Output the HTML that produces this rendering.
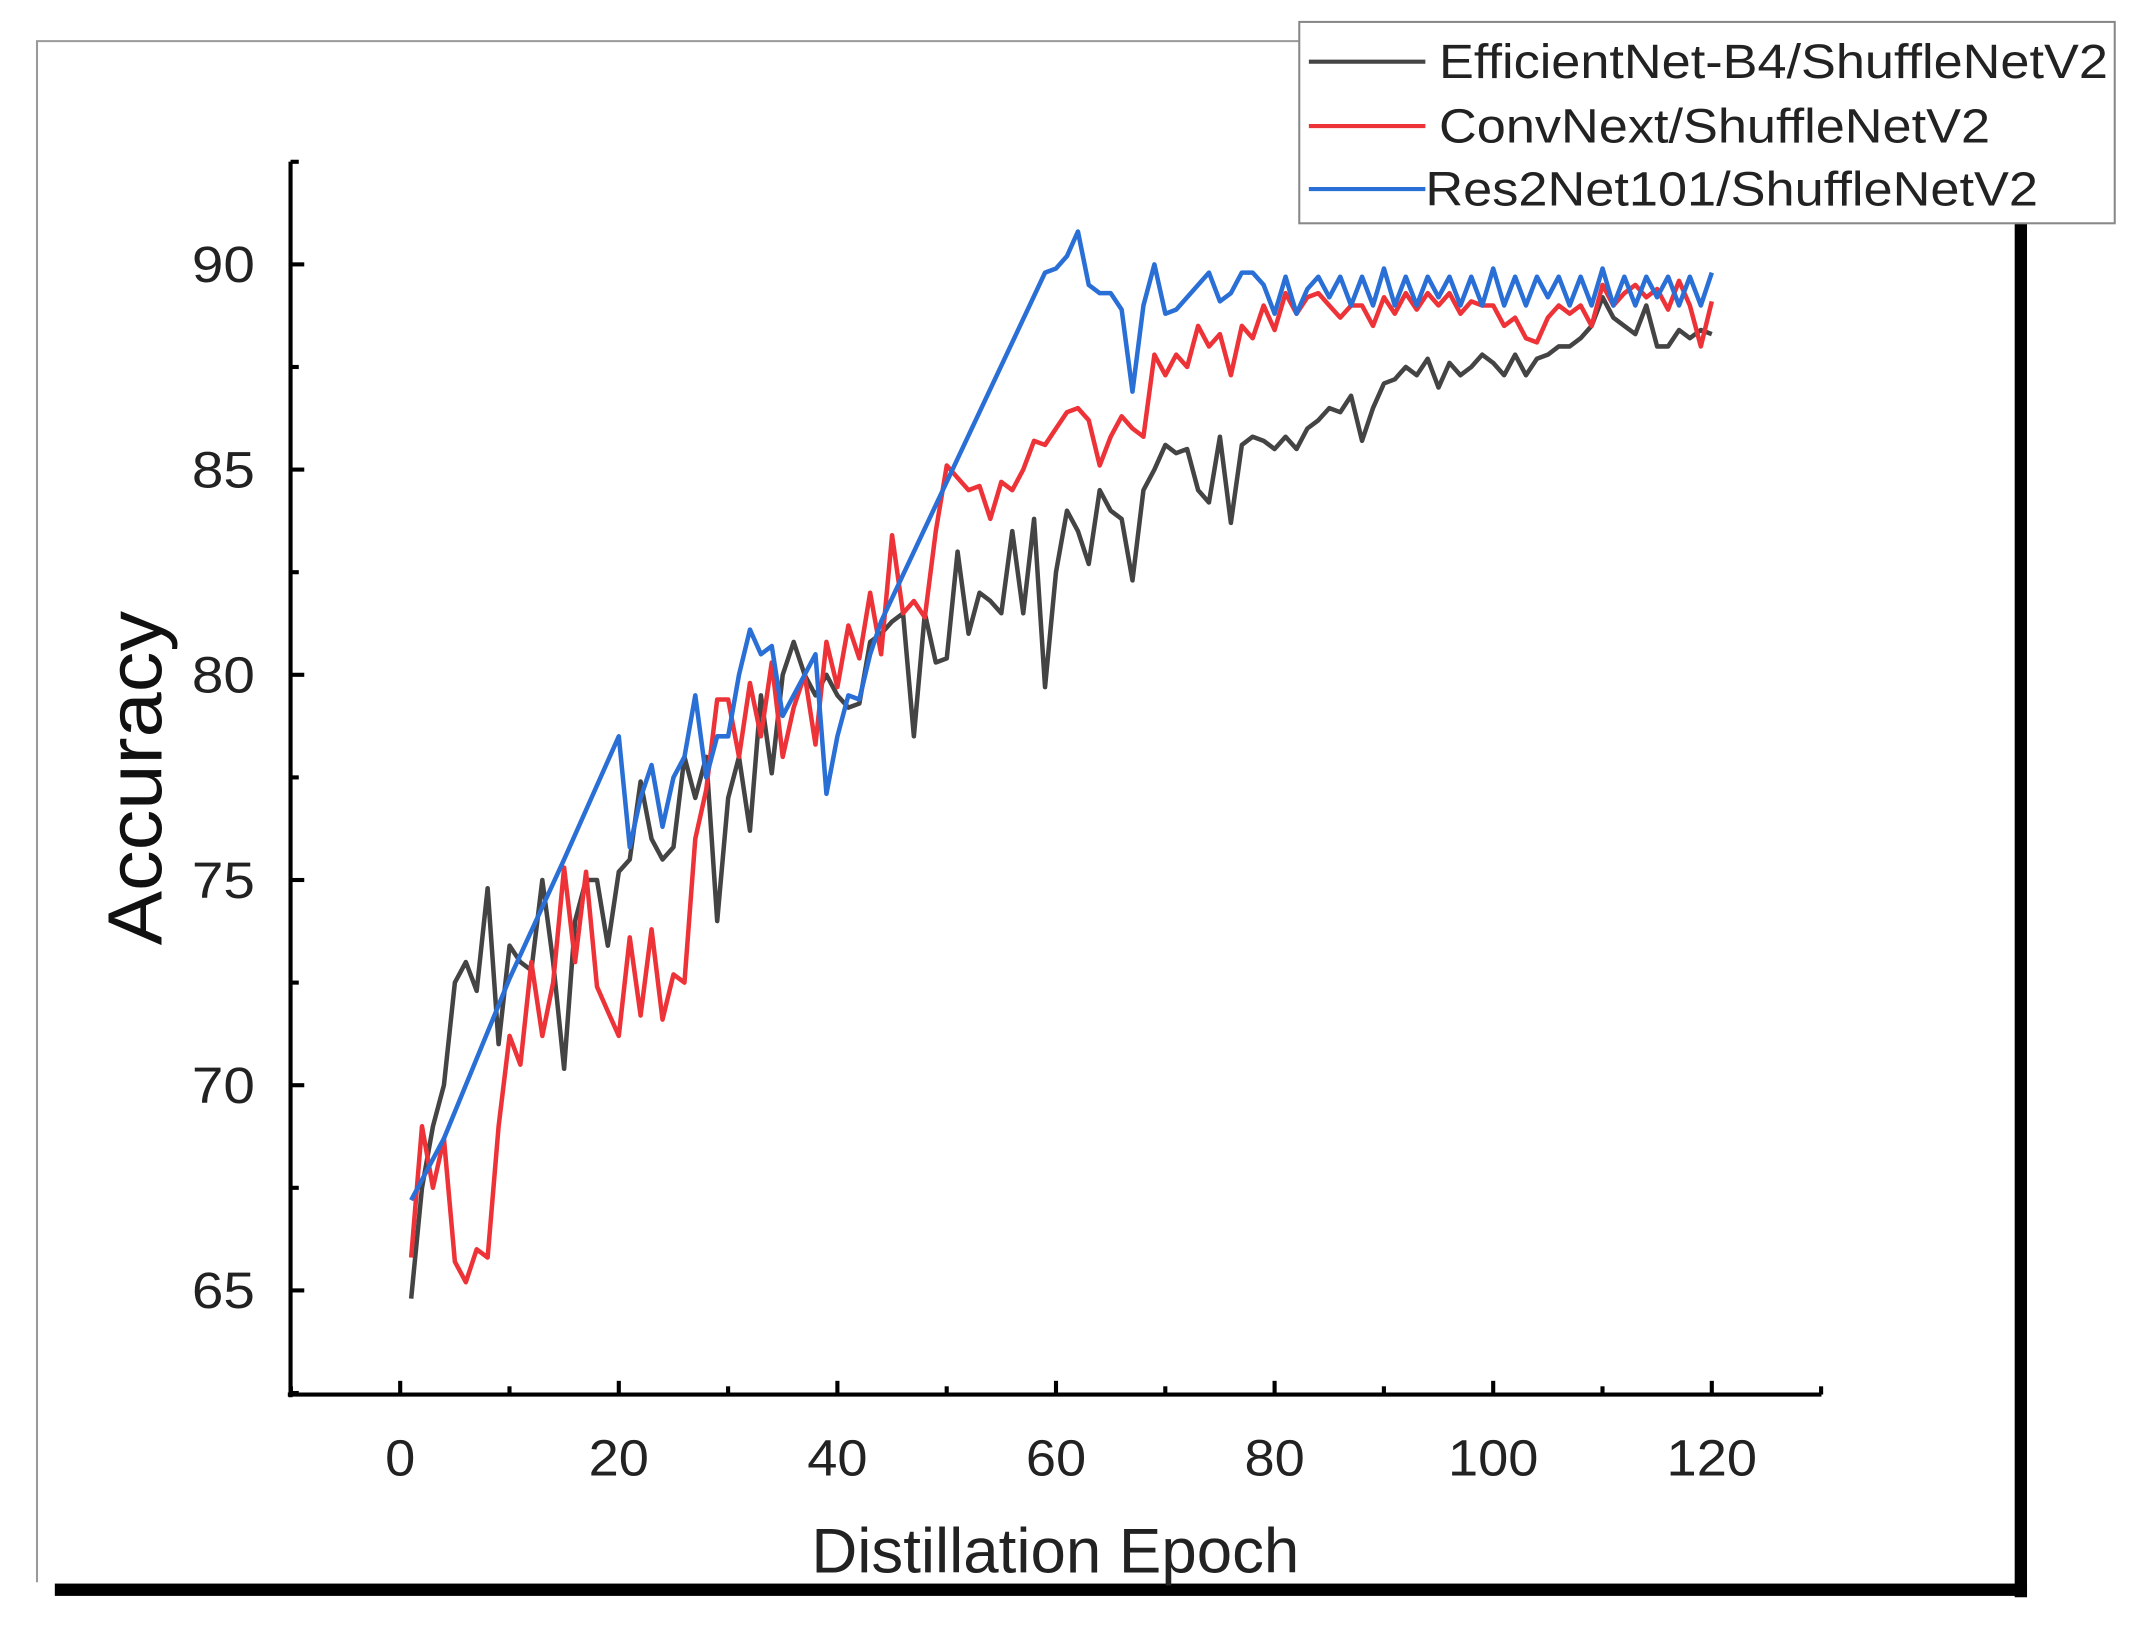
<!DOCTYPE html>
<html><head><meta charset="utf-8"><style>html,body{margin:0;padding:0;background:#fff;overflow:hidden}svg{display:block}</style></head>
<body>
<svg id="s" width="2149" height="1637" viewBox="0 0 1568 1195" preserveAspectRatio="none" xmlns="http://www.w3.org/2000/svg" font-family="Liberation Sans, Arial, sans-serif">
<rect width="1568" height="1195" fill="#fff"/>
<path d="M1475 30 H27 V1155" fill="none" stroke="#9a9a9a" stroke-width="1.5"/>
<rect x="1470" y="160" width="9" height="1006" fill="#000"/>
<rect x="40" y="1156" width="1439" height="9" fill="#000"/>
<g stroke="#000" stroke-width="3" fill="none">
<line x1="212" y1="118" x2="212" y2="1020"/>
<line x1="210" y1="1018" x2="1329" y2="1018"/>
</g>
<g id="ticks" stroke="#000" stroke-width="3"></g>
<g font-size="37" fill="#222" text-anchor="end" id="ylab"></g>
<g font-size="37" fill="#222" text-anchor="middle" id="xlab"></g>
<text x="770" y="1148" font-size="46" text-anchor="middle" fill="#222" textLength="356" lengthAdjust="spacingAndGlyphs">Distillation Epoch</text>
<text transform="translate(118 568) rotate(-90)" font-size="56" text-anchor="middle" fill="#111" textLength="244" lengthAdjust="spacingAndGlyphs">Accuracy</text>
<g fill="none" stroke-width="3.3" stroke-linejoin="round">
<polyline id="pk" stroke="#444"/>
<polyline id="pr" stroke="#ee3338"/>
<polyline id="pb" stroke="#2a6fd6"/>
</g>
<rect x="948" y="16" width="595" height="147" fill="#fff" stroke="#888" stroke-width="1.5"/>
<g stroke-width="3">
<line x1="955" y1="45" x2="1040" y2="45" stroke="#444"/>
<line x1="955" y1="92" x2="1040" y2="92" stroke="#ee3338"/>
<line x1="955" y1="138" x2="1040" y2="138" stroke="#2a6fd6"/>
</g>
<g font-size="35" fill="#222">
<text x="1050" y="57" textLength="488" lengthAdjust="spacingAndGlyphs">EfficientNet-B4/ShuffleNetV2</text>
<text x="1050" y="104" textLength="402" lengthAdjust="spacingAndGlyphs">ConvNext/ShuffleNetV2</text>
<text x="1040" y="150" textLength="447" lengthAdjust="spacingAndGlyphs">Res2Net101/ShuffleNetV2</text>
</g>
</svg>
<script>
const X=e=>292+(1249-292)*e/120, Y=v=>193+(90-v)*(942-193)/25;
const NS="http://www.w3.org/2000/svg";
const t=document.getElementById('ticks');
function ln(a,b,c,d){const l=document.createElementNS(NS,'line');l.setAttribute('x1',a);l.setAttribute('y1',b);l.setAttribute('x2',c);l.setAttribute('y2',d);t.appendChild(l);}
function tx(id,x,y,s,w){const e=document.createElementNS(NS,'text');e.setAttribute('x',x);e.setAttribute('y',y);e.setAttribute('textLength',w);e.setAttribute('lengthAdjust','spacingAndGlyphs');e.textContent=s;document.getElementById(id).appendChild(e);}
for(let v=62.5;v<=92.5;v+=2.5){const y=Y(v);const maj=(v%5===0);ln(212,y,maj?222:218,y);if(maj&&v>=65&&v<=90)tx('ylab',186,y+13,v,46);}
for(let e=-10;e<=130;e+=10){const x=X(e);const maj=(e%20===0);ln(x,1018,x,maj?1008:1012);if(maj&&e>=0&&e<=120){const s=String(e);tx('xlab',x,1077,s,s.length*22);}}
const k=[64.8,67.5,69,70,72.5,73,72.3,74.8,71,73.4,73,72.8,75,73,70.4,74,75,75,73.4,75.2,75.5,77.4,76,75.5,75.8,78,77,78,74,77,78,76.2,79.5,77.6,80,80.8,80,79.5,80,79.5,79.2,79.3,80.8,81,81.3,81.5,78.5,81.5,80.3,80.4,83,81,82,81.8,81.5,83.5,81.5,83.8,79.7,82.5,84,83.5,82.7,84.5,84,83.8,82.3,84.5,85,85.6,85.4,85.5,84.5,84.2,85.8,83.7,85.6,85.8,85.7,85.5,85.8,85.5,86,86.2,86.5,86.4,86.8,85.7,86.5,87.1,87.2,87.5,87.3,87.7,87,87.6,87.3,87.5,87.8,87.6,87.3,87.8,87.3,87.7,87.8,88,88,88.2,88.5,89.2,88.7,88.5,88.3,89,88,88,88.4,88.2,88.4,88.3];
const r=[65.8,69,67.5,68.7,65.7,65.2,66,65.8,69,71.2,70.5,73,71.2,72.5,75.3,73,75.2,72.4,71.8,71.2,73.6,71.7,73.8,71.6,72.7,72.5,76,77.2,79.4,79.4,78,79.8,78.5,80.3,78,79.2,80,78.3,80.8,79.7,81.2,80.4,82,80.5,83.4,81.5,81.8,81.4,83.5,85.1,84.8,84.5,84.6,83.8,84.7,84.5,85,85.7,85.6,86,86.4,86.5,86.2,85.1,85.8,86.3,86,85.8,87.8,87.3,87.8,87.5,88.5,88,88.3,87.3,88.5,88.2,89,88.4,89.3,88.8,89.2,89.3,89,88.7,89,89,88.5,89.2,88.8,89.3,88.9,89.3,89,89.3,88.8,89.1,89,89,88.5,88.7,88.2,88.1,88.7,89,88.8,89,88.5,89.5,89,89.3,89.5,89.2,89.4,88.9,89.6,89,88,89.1];
const bk=[[1,67.2],[4,68.7],[10,72.6],[15,75.5],[20,78.5],[21,75.8],[22,77],[23,77.8],[24,76.3],[25,77.5],[26,78],[27,79.5],[28,77.5],[29,78.5],[30,78.5],[31,80],[32,81.1],[33,80.5],[34,80.7],[35,79],[36,79.5],[37,80],[38,80.5],[39,77.1],[40,78.5],[41,79.5],[42,79.4],[43,80.5],[44,81.3],[59,89.8],[60,89.9],[61,90.2],[62,90.8],[63,89.5],[64,89.3],[65,89.3],[66,88.9],[67,86.9],[68,89],[69,90],[70,88.8],[71,88.9],[72,89.2],[73,89.5],[74,89.8],[75,89.1],[76,89.3],[77,89.8],[78,89.8],[79,89.5],[80,88.8],[81,89.7],[82,88.8],[83,89.4]];
for(let e=84;e<=118;e++)bk.push([e,(e%2?89.0:89.7)+((e%5)===0?0.2:0)]);
bk.push([119,89.0],[120,89.8]);
const pts=a=>a.map((v,i)=>X(i+1).toFixed(1)+','+Y(v).toFixed(1)).join(' ');
document.getElementById('pk').setAttribute('points',pts(k));
document.getElementById('pr').setAttribute('points',pts(r));
document.getElementById('pb').setAttribute('points',bk.map(p=>X(p[0]).toFixed(1)+','+Y(p[1]).toFixed(1)).join(' '));
</script>
</body></html>
